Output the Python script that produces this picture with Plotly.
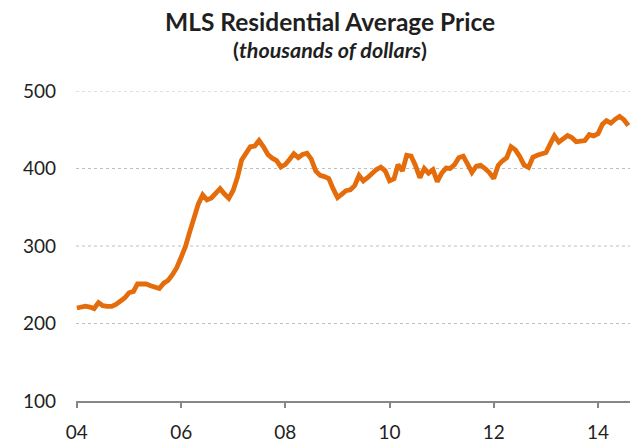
import pandas as pd
import plotly.graph_objects as go

# Monthly MLS residential average price, thousands of dollars (Jan 2004 onward)
months = pd.date_range("2004-01-01", periods=128, freq="MS")
prices = [
    220, 221.2, 222.4, 221.2, 219.3, 227, 223, 222, 222, 224.7,
    228.5, 233, 239.7, 241.4, 251, 251.5, 251, 248.7, 246.5, 245.2,
    252, 255.5, 263, 272, 285.5, 299.7, 317.5, 336, 354, 366,
    359.5, 362, 368, 374, 367, 361.5, 372, 389.5, 411, 420.5,
    428, 429, 436, 428, 418, 413.3, 410.2, 402, 405.2, 412,
    419, 414, 418, 419.6, 412, 397, 391.1, 389.6, 387, 374,
    362.5, 367, 371.3, 372.6, 377.8, 391, 384, 388.5, 394, 398.6,
    401.7, 397, 384, 386.6, 405, 397, 417, 416, 404, 388,
    400, 394, 398.5, 383, 394, 400.5, 400, 405, 414, 416,
    406, 395, 403, 404, 400, 394.8, 387, 404, 409.7, 414,
    428, 424, 415.5, 404.4, 401.5, 414.4, 417, 419.5, 420.7, 432,
    442, 434, 437.3, 442.5, 440, 434.5, 435.4, 436.1, 443.7, 442,
    445, 457.2, 461.8, 458.5, 463.5, 467.3, 463, 455.5,
]
y_ticks = [100, 200, 300, 400, 500]
x_tick_dates = ["2004-01-01", "2006-01-01", "2008-01-01", "2010-01-01", "2012-01-01", "2014-01-01"]
x_tick_labels = ["04", "06", "08", "10", "12", "14"]

FONT = "Lato"
fig = go.Figure()
fig.add_trace(go.Scatter(
    x=months, y=prices, mode="lines",
    line=dict(color="#E46C0A", width=4.8),
    hoverinfo="skip",
))

# dotted gridlines
for v in y_ticks[1:]:
    fig.add_shape(type="line", xref="paper", yref="y", x0=0, x1=1, y0=v, y1=v,
                  line=dict(color="#BFBFBF", width=1, dash="dot"), layer="below")

fig.update_layout(
    width=630, height=443,
    margin=dict(l=76, r=0, t=91, b=42),
    paper_bgcolor="white", plot_bgcolor="white",
    showlegend=False,
    font=dict(family=FONT, size=19, color="#1F1F1F"),
)
fig.update_xaxes(
    range=["2003-12-26", "2014-08-13"],
    tickvals=x_tick_dates, ticktext=x_tick_labels,
    showgrid=False, zeroline=False, automargin=False,
    showline=True, linecolor="#868686", linewidth=1.5,
    ticks="outside", ticklen=5, tickcolor="#868686", tickwidth=1.5,
    ticklabelstandoff=8,
    tickfont=dict(family=FONT, size=19, color="#1F1F1F"),
)
fig.update_yaxes(
    range=[100, 500], tickvals=y_ticks,
    showgrid=False, zeroline=False, showline=False, automargin=False,
    ticks="", ticklabelstandoff=19,
    tickfont=dict(family=FONT, size=19, color="#1F1F1F"),
)

fig.add_annotation(
    xref="paper", yref="paper", x=(330 - 76) / 554, y=(401 - 22) / 310,
    xanchor="center", yanchor="middle", showarrow=False,
    text="<b>MLS Residential Average Price</b>",
    font=dict(family=FONT, size=24.5, color="#1F1F1F"),
)
fig.add_annotation(
    xref="paper", yref="paper", x=(330 - 76) / 554, y=(401 - 50) / 310,
    xanchor="center", yanchor="middle", showarrow=False,
    text="<b>(<i>thousands of dollars</i>)</b>",
    font=dict(family=FONT, size=21.5, color="#1F1F1F"),
)

# remove the browser's default 8px body margin so the figure fills the window
fig.write_html(
    "out.html",
    config={"displayModeBar": False},
    post_script="document.body.style.margin='0';document.body.style.overflow='hidden';",
)
